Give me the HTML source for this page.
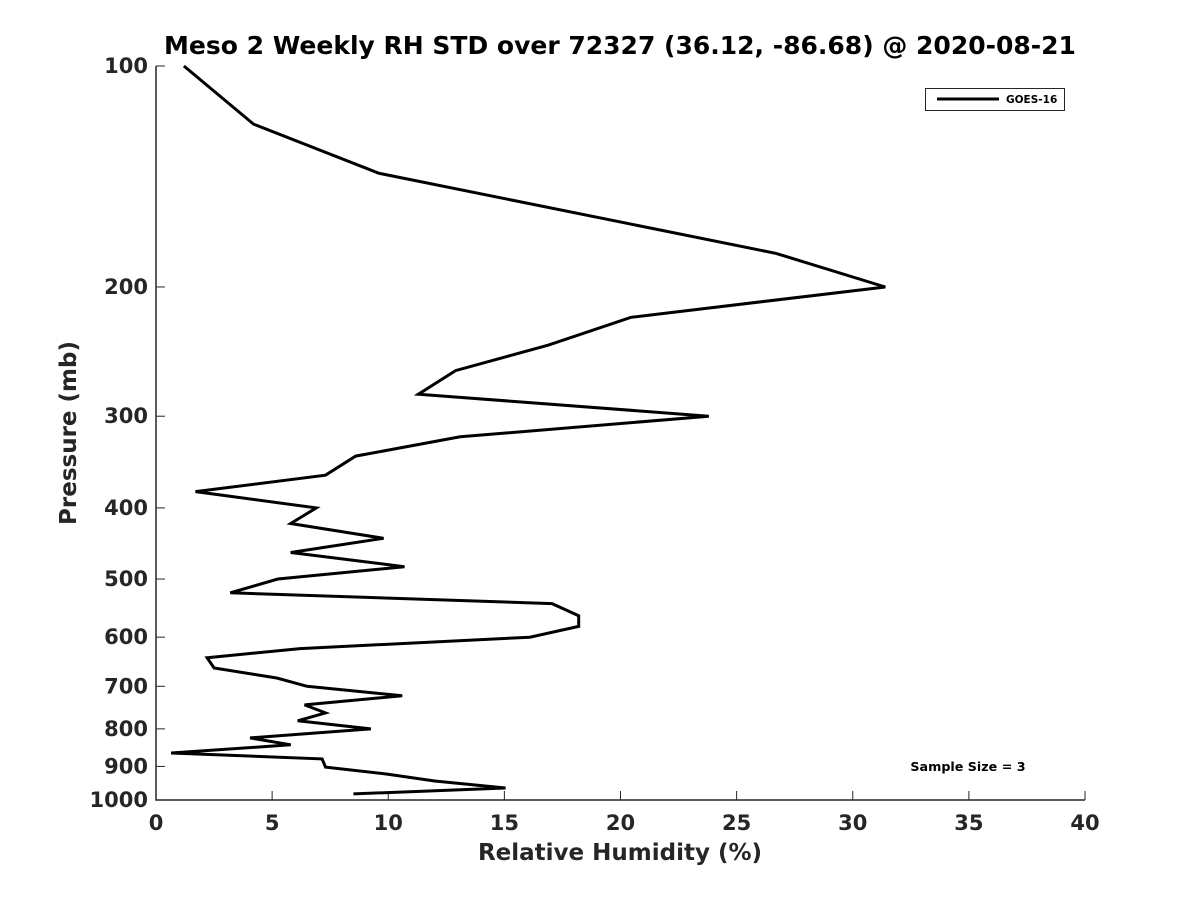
<!DOCTYPE html>
<html><head><meta charset="utf-8"><style>
html,body{margin:0;padding:0;background:#fff;}
svg{display:block;font-family:"DejaVu Sans","Liberation Sans",sans-serif;font-weight:bold;}
</style></head><body>
<svg id="chart" width="1200" height="900">
<rect width="1200" height="900" fill="#fff"/>
</svg>
<script>
const rhValues=[1.2,4.2,9.6,26.7,31.4,20.45,16.9,12.9,11.3,23.8,13.1,8.6,7.3,1.7,6.9,5.8,9.8,5.8,10.7,5.25,3.2,17.05,18.2,18.2,16.1,6.2,2.2,2.5,5.2,6.5,10.6,6.4,7.3,6.1,9.25,4.05,5.8,0.65,7.15,7.3,9.95,12.0,15.05,8.5];
const pressureLevels=[100,120,140,180,200,220,240,260,280,300,320,340,361,380,400,420,440,460,481,500,522,540,561,580,600,622,640,661,682,700,721,742,761,780,800,823,841,863,879,902,922,942,963,981];
const xTicks=[0,5,10,15,20,25,30,35,40];
const yTicks=[100,200,300,400,500,600,700,800,900,1000];
const X0=156,X1=1085,Y0=66,Y1=800;
const xs=v=>X0+(v-0)/40*(X1-X0);
const ys=p=>Y0+Math.log10(p/100)*(Y1-Y0);
const svg=document.getElementById('chart');
const NS='http://www.w3.org/2000/svg';
function mk(tag,attrs,parent){const e=document.createElementNS(NS,tag);for(const k in attrs)e.setAttribute(k,attrs[k]);(parent||svg).appendChild(e);return e;}
let t=mk('text',{x:620,y:54,'text-anchor':'middle','font-size':25,fill:'#000'});


t.textContent='Meso 2 Weekly RH STD over 72327 (36.12, -86.68) @ 2020-08-21';
let ax=mk('path',{d:`M${X0},${Y0}V${Y1}H${X1}`,fill:'none',stroke:'#262626','stroke-width':1.5});


xTicks.forEach(v=>{
 const x=xs(v);
 let l=mk('line',{x1:x,x2:x,y1:Y1,y2:Y1-9,stroke:'#262626','stroke-width':1});
 
 
 let tx=mk('text',{x:x,y:830,'text-anchor':'middle','font-size':21,fill:'#262626'});
 
 
 tx.textContent=v;
});
yTicks.forEach(p=>{
 const y=ys(p);
 let l=mk('line',{x1:X0,x2:X0+9,y1:y,y2:y,stroke:'#262626','stroke-width':1});
 
 
 let tx=mk('text',{x:148,y:y+7,'text-anchor':'end','font-size':21,fill:'#262626'});
 
 
 tx.textContent=p;
});
let xl=mk('text',{x:620,y:860,'text-anchor':'middle','font-size':23,fill:'#262626'});


xl.textContent='Relative Humidity (%)';
let yl=mk('text',{x:0,y:0,'text-anchor':'middle','font-size':23,fill:'#262626',transform:'translate(76,433) rotate(-90)'});


yl.textContent='Pressure (mb)';
let d=rhValues.map((v,i)=>(i?'L':'M')+xs(v).toFixed(1)+','+ys(pressureLevels[i]).toFixed(1)).join('');
let ln=mk('path',{d:d,fill:'none',stroke:'#000','stroke-width':3,'stroke-linejoin':'miter'});


let lg=mk('g',{});


mk('rect',{x:925.5,y:88.5,width:139,height:22,fill:'#fff',stroke:'#262626','stroke-width':1},lg);
mk('line',{x1:937,x2:999,y1:99,y2:99,stroke:'#000','stroke-width':3},lg);
let lt=mk('text',{x:1006,y:103,'font-size':10.5,fill:'#000'},lg);


lt.textContent='GOES-16';
let ss=mk('text',{x:968,y:771,'text-anchor':'middle','font-size':12.7,fill:'#000'});


ss.textContent='Sample Size = 3';
</script>
</body></html>
